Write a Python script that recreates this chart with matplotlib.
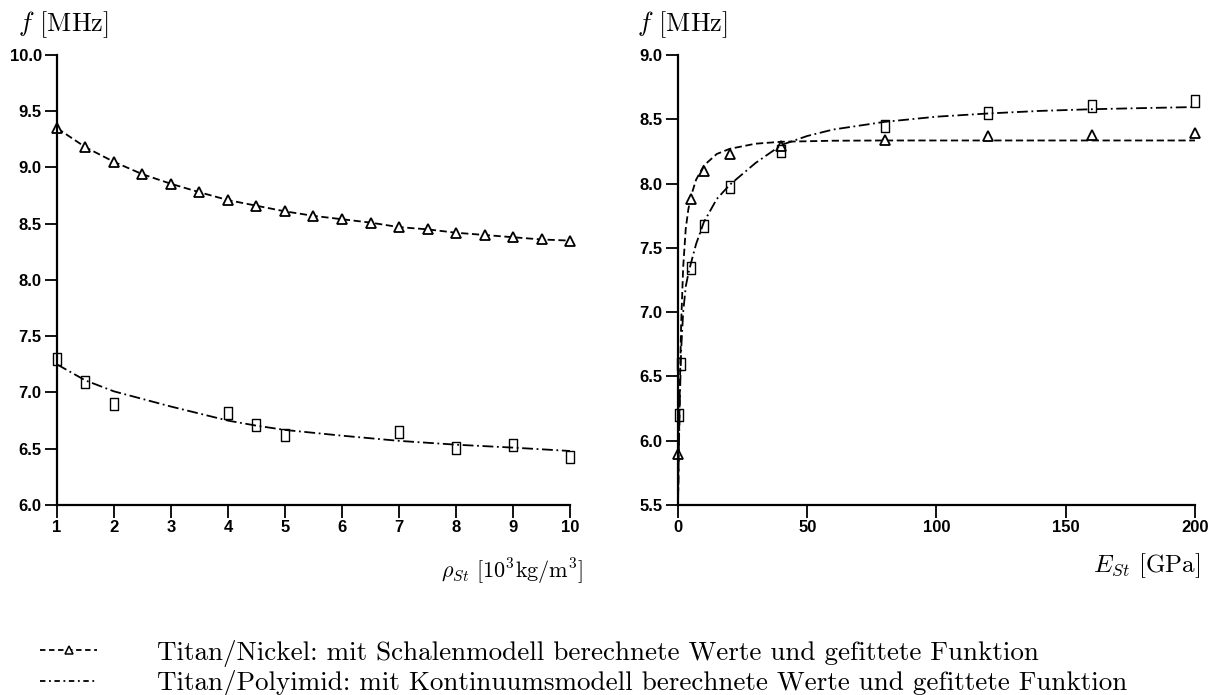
import matplotlib.pyplot as plt
from matplotlib.lines import Line2D
from matplotlib.path import Path

plt.rcParams['mathtext.fontset'] = 'cm'
plt.rcParams['font.family'] = ['Liberation Sans', 'DejaVu Sans']

# Frequenz ueber der Dichte der Stuetzschicht
rho_ni = [1, 1.5, 2, 2.5, 3, 3.5, 4, 4.5, 5, 5.5, 6, 6.5, 7, 7.5, 8, 8.5, 9, 9.5, 10]
f_rho_ni = [9.35, 9.18, 9.05, 8.94, 8.855, 8.78, 8.71, 8.66, 8.61, 8.57, 8.54,
            8.51, 8.47, 8.45, 8.42, 8.40, 8.38, 8.36, 8.35]
rho_pi = [1, 1.5, 2, 4, 4.5, 5, 7, 8, 9, 10]
f_rho_pi = [7.30, 7.09, 6.90, 6.815, 6.71, 6.62, 6.65, 6.51, 6.53, 6.43]
rho_pi_fit = [1, 1.5, 2, 3, 4, 4.5, 5, 6, 7, 8, 9, 10]
f_rho_pi_fit = [7.25, 7.107, 7.01, 6.875, 6.75, 6.705, 6.667, 6.616, 6.57, 6.536, 6.51, 6.48]

# Frequenz ueber dem E-Modul der Stuetzschicht
E_ni = [0.1, 5, 10, 20, 40, 80, 120, 160, 200]
f_E_ni = [5.9, 7.88, 8.10, 8.23, 8.29, 8.34, 8.37, 8.38, 8.39]
E_pi = [0.2, 1, 5, 10, 20, 40, 80, 120, 160, 200]
f_E_pi = [6.20, 6.60, 7.34, 7.67, 7.97, 8.25, 8.45, 8.55, 8.60, 8.64]
E_ni_fit = [0, 0.3, 0.7, 1.2, 2, 3, 4, 5, 7, 10, 15, 20, 30, 40, 60, 80, 120, 160, 200]
f_E_ni_fit = [5.5, 5.9, 6.4, 6.9, 7.35, 7.65, 7.8, 7.9, 8.03, 8.14, 8.23, 8.27,
              8.31, 8.325, 8.333, 8.335, 8.335, 8.335, 8.335]
E_pi_fit = [0, 0.3, 0.7, 1.2, 2, 3, 4, 5, 7, 10, 15, 20, 30, 40, 50, 60, 80,
            100, 120, 140, 160, 180, 200]
f_E_pi_fit = [5.5, 5.9, 6.3, 6.7, 7.0, 7.2, 7.3, 7.38, 7.53, 7.70, 7.88, 7.99, 8.16,
              8.30, 8.37, 8.42, 8.48, 8.52, 8.545, 8.565, 8.578, 8.587, 8.595]

label_ni = 'Titan/Nickel: mit Schalenmodell berechnete Werte und gefittete Funktion'
label_pi = 'Titan/Polyimid: mit Kontinuumsmodell berechnete Werte und gefittete Funktion'

# schmales Rechteck als Marker
rect = Path([(-0.32, -0.5), (0.32, -0.5), (0.32, 0.5), (-0.32, 0.5), (-0.32, -0.5)],
            [Path.MOVETO, Path.LINETO, Path.LINETO, Path.LINETO, Path.CLOSEPOLY])

dash = (4, 2)
dashdot = (6, 2, 1, 2)
lw = 1.3
tri_kw = dict(marker='^', ms=7, mfc='white', mec='black', mew=1.3, clip_on=False)
rect_kw = dict(marker=rect, ms=8.5, mfc='none', mec='black', mew=1.0, ls='none',
               clip_on=False)

fig = plt.figure(figsize=(12.09, 6.95), dpi=100)
ax1 = fig.add_axes([0.0471, 0.2734, 0.4244, 0.6475])
ax2 = fig.add_axes([0.5608, 0.2734, 0.4276, 0.6475])

ax1.plot(rho_ni, f_rho_ni, color='black', lw=lw, dashes=dash, **tri_kw)
ax1.plot(rho_pi_fit, f_rho_pi_fit, color='black', lw=lw, dashes=dashdot)
ax1.plot(rho_pi, f_rho_pi, **rect_kw)
ax1.set_xlim(1, 10)
ax1.set_ylim(6, 10)
ax1.set_xticks(range(1, 11))
ax1.set_yticks([6.0, 6.5, 7.0, 7.5, 8.0, 8.5, 9.0, 9.5, 10.0])

ax2.plot(E_ni_fit, f_E_ni_fit, color='black', lw=lw, dashes=dash)
ax2.plot(E_ni, f_E_ni, ls='none', **tri_kw)
ax2.plot(E_pi_fit, f_E_pi_fit, color='black', lw=lw, dashes=dashdot)
ax2.plot(E_pi, f_E_pi, **rect_kw)
ax2.set_xlim(0, 200)
ax2.set_ylim(5.5, 9.0)
ax2.set_xticks([0, 50, 100, 150, 200])
ax2.set_yticks([5.5, 6.0, 6.5, 7.0, 7.5, 8.0, 8.5, 9.0])

for ax, dx in ((ax1, -39 / 513), (ax2, -41 / 517)):
    ax.spines[['top', 'right']].set_visible(False)
    ax.spines[['left', 'bottom']].set_linewidth(1.6)
    ax.tick_params(direction='out', length=9, width=1.3, pad=2, labelsize=12)
    for lab in ax.get_xticklabels() + ax.get_yticklabels():
        lab.set_fontweight('bold')
    ax.yaxis.set_major_formatter('{x:.1f}')
    ax.text(dx, 1.053, r'$f$ [MHz]', transform=ax.transAxes, fontsize=19,
            family='cmr10', va='baseline', ha='left')

ax1.text(1.025, -0.15, r'$\rho_{St}$ [$10^3$kg/m$^3$]', transform=ax1.transAxes,
         fontsize=16, family='cmr10', ha='right', va='center')
ax2.text(1.010, -0.135, r'$E_{St}$ [GPa]', transform=ax2.transAxes,
         fontsize=18, family='cmr10', ha='right', va='center')

handles = [Line2D([], [], color='black', lw=lw, dashes=(3, 2), marker='^', ms=6,
                  mfc='white', mec='black', mew=1.1),
           Line2D([], [], color='black', lw=lw, dashes=(3, 2, 1, 2))]
fig.legend(handles, [label_ni, label_pi], loc='upper left',
           bbox_to_anchor=(0.022, 0.099), frameon=False, borderpad=0,
           handlelength=2.1, handletextpad=2.2, labelspacing=0.12,
           prop={'family': 'cmr10', 'size': 19.5}, numpoints=1)

fig.savefig('out.png', dpi=100)
